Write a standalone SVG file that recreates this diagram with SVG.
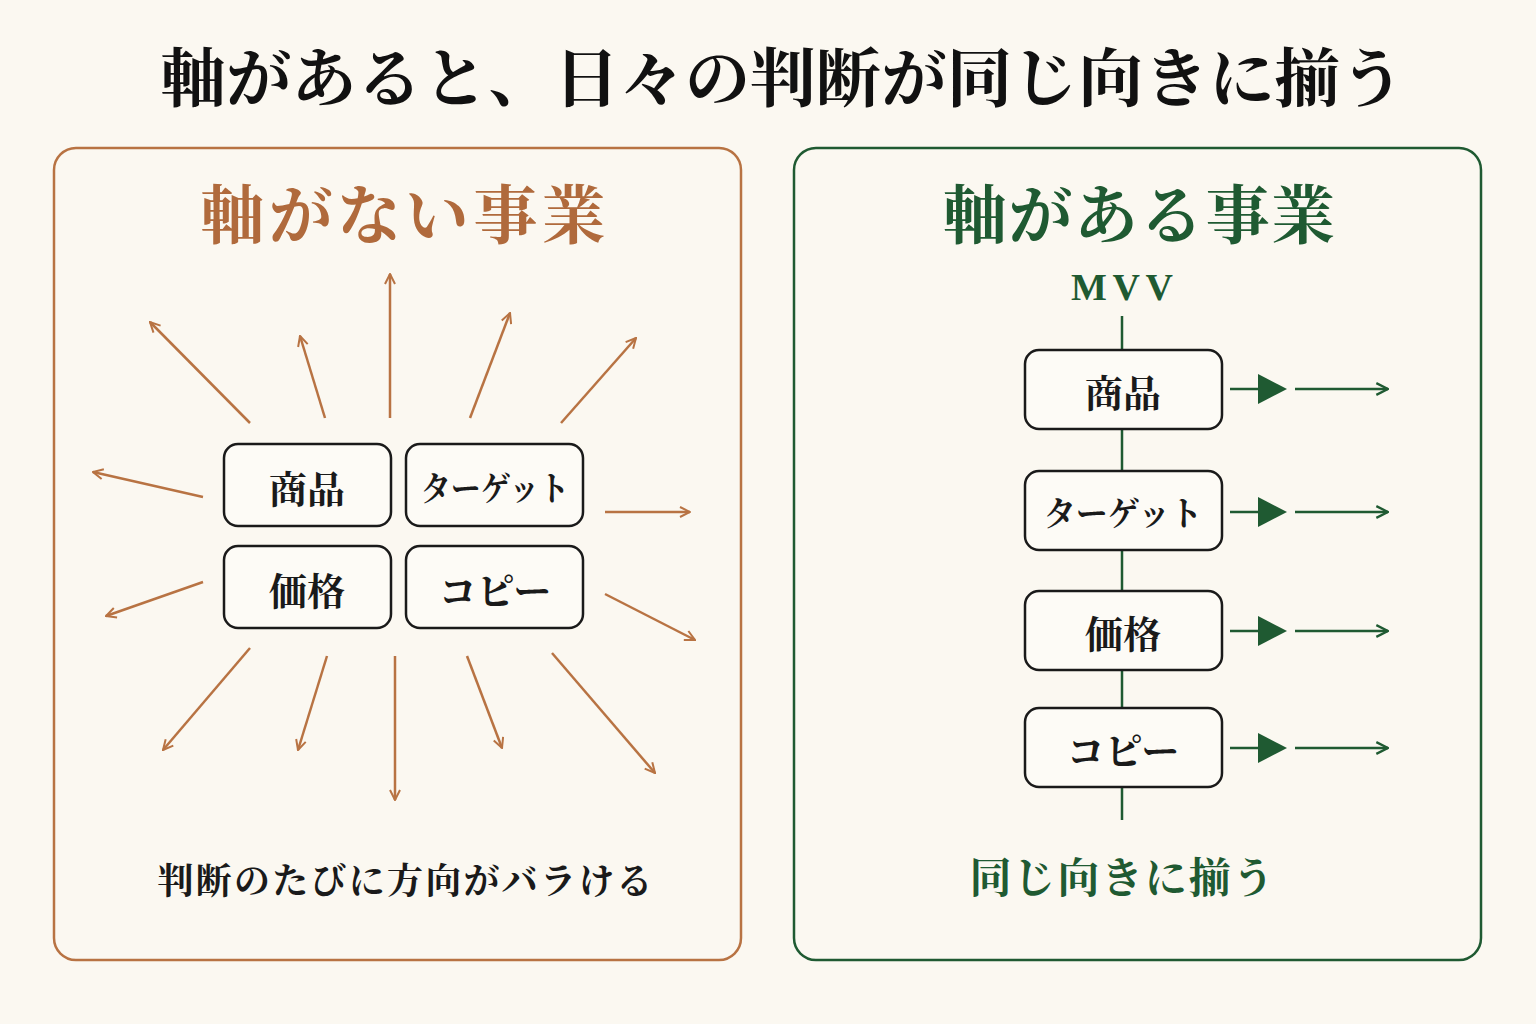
<svg xmlns="http://www.w3.org/2000/svg" width="1536" height="1024" viewBox="0 0 1536 1024">
<defs>
<style>
text{font-family:"Noto Serif CJK JP","Noto Sans CJK JP",serif;font-weight:700;text-anchor:middle;dominant-baseline:central}
.o{stroke:#b87343;stroke-width:2.5;fill:none}
.g{stroke:#1f5a32;stroke-width:2.5;fill:none}
.box{fill:#fdfbf6;stroke:#1a1a1a;stroke-width:2.5}
.bt{font-size:38px;fill:#1a1a1a}
.tt{font-size:34px;fill:#1a1a1a}
</style>
<marker id="ao" viewBox="0 0 12 12" refX="11" refY="6" markerWidth="12" markerHeight="12" markerUnits="userSpaceOnUse" orient="auto"><path d="M1,1 L11,6 L1,11" fill="none" stroke="#b87343" stroke-width="2"/></marker>
<marker id="ag" viewBox="0 0 12 12" refX="11" refY="6" markerWidth="14" markerHeight="14" markerUnits="userSpaceOnUse" orient="auto"><path d="M1,1 L11,6 L1,11" fill="none" stroke="#1f5a32" stroke-width="2"/></marker>
</defs>
<rect width="1536" height="1024" fill="#fbf8f1"/>
<text x="783" y="73" font-size="64" fill="#111" textLength="1245" lengthAdjust="spacingAndGlyphs">軸があると、日々の判断が同じ向きに揃う</text>
<g id="left-panel">
<rect x="54" y="148" width="687" height="812" rx="22" fill="none" stroke="#b87343" stroke-width="2.5"/>
<text x="403" y="210" font-size="64" fill="#b06a3c" textLength="405" lengthAdjust="spacing">軸がない事業</text>
<text x="405" y="878" font-size="36" fill="#1a1a1a" textLength="495" lengthAdjust="spacing">判断のたびに方向がバラける</text>
</g>
<g id="l-shohin"><rect class="box" x="224" y="444" width="167" height="82" rx="14"/><text class="bt" x="307" y="486">商品</text></g>
<g id="l-target"><rect class="box" x="406" y="444" width="177" height="82" rx="14"/><text class="tt" x="495" y="486" textLength="148" lengthAdjust="spacingAndGlyphs">ターゲット</text></g>
<g id="l-kakaku"><rect class="box" x="224" y="546" width="167" height="82" rx="14"/><text class="bt" x="307" y="588">価格</text></g>
<g id="l-copy"><rect class="box" x="406" y="546" width="177" height="82" rx="14"/><text class="bt" x="495" y="588">コピー</text></g>
<g id="connectors-left">
<line class="o" x1="250" y1="423" x2="150" y2="322" marker-end="url(#ao)"/>
<line class="o" x1="325" y1="418" x2="300" y2="336" marker-end="url(#ao)"/>
<line class="o" x1="390" y1="418" x2="390" y2="274" marker-end="url(#ao)"/>
<line class="o" x1="470" y1="418" x2="510" y2="313" marker-end="url(#ao)"/>
<line class="o" x1="561" y1="423" x2="636" y2="338" marker-end="url(#ao)"/>
<line class="o" x1="203" y1="497" x2="93" y2="472" marker-end="url(#ao)"/>
<line class="o" x1="605" y1="512" x2="690" y2="512" marker-end="url(#ao)"/>
<line class="o" x1="203" y1="582" x2="106" y2="616" marker-end="url(#ao)"/>
<line class="o" x1="605" y1="594" x2="695" y2="640" marker-end="url(#ao)"/>
<line class="o" x1="250" y1="648" x2="163" y2="750" marker-end="url(#ao)"/>
<line class="o" x1="327" y1="656" x2="298" y2="750" marker-end="url(#ao)"/>
<line class="o" x1="395" y1="656" x2="395" y2="800" marker-end="url(#ao)"/>
<line class="o" x1="467" y1="656" x2="502" y2="748" marker-end="url(#ao)"/>
<line class="o" x1="552" y1="653" x2="655" y2="773" marker-end="url(#ao)"/>
</g>
<g id="right-panel">
<rect x="794" y="148" width="687" height="812" rx="22" fill="none" stroke="#1f5a32" stroke-width="2.5"/>
<text x="1139" y="210" font-size="64" fill="#1f5a32" textLength="392" lengthAdjust="spacing">軸がある事業</text>
<text x="1122" y="287" font-size="38" fill="#1f5a32" style="font-family:'Liberation Serif',serif" textLength="102" lengthAdjust="spacing">MVV</text>
<text x="1122" y="875" font-size="42" fill="#1f5a32" textLength="305" lengthAdjust="spacing">同じ向きに揃う</text>
</g>
<g id="connectors-right">
<line class="g" x1="1122" y1="316" x2="1122" y2="820"/>
<g fill="#1f5a32">
<path d="M1258,374 L1287,389 L1258,404Z"/><path d="M1258,497 L1287,512 L1258,527Z"/><path d="M1258,616 L1287,631 L1258,646Z"/><path d="M1258,733 L1287,748 L1258,763Z"/>
</g>
<line class="g" x1="1230" y1="389" x2="1260" y2="389"/><line class="g" x1="1295" y1="389" x2="1388" y2="389" marker-end="url(#ag)"/>
<line class="g" x1="1230" y1="512" x2="1260" y2="512"/><line class="g" x1="1295" y1="512" x2="1388" y2="512" marker-end="url(#ag)"/>
<line class="g" x1="1230" y1="631" x2="1260" y2="631"/><line class="g" x1="1295" y1="631" x2="1388" y2="631" marker-end="url(#ag)"/>
<line class="g" x1="1230" y1="748" x2="1260" y2="748"/><line class="g" x1="1295" y1="748" x2="1388" y2="748" marker-end="url(#ag)"/>
</g>
<g id="r-shohin"><rect class="box" x="1025" y="350" width="197" height="79" rx="14"/><text class="bt" x="1123" y="390">商品</text></g>
<g id="r-target"><rect class="box" x="1025" y="471" width="197" height="79" rx="14"/><text class="tt" x="1123" y="511" textLength="158" lengthAdjust="spacingAndGlyphs">ターゲット</text></g>
<g id="r-kakaku"><rect class="box" x="1025" y="591" width="197" height="79" rx="14"/><text class="bt" x="1123" y="631">価格</text></g>
<g id="r-copy"><rect class="box" x="1025" y="708" width="197" height="79" rx="14"/><text class="bt" x="1123" y="748">コピー</text></g>
</svg>
